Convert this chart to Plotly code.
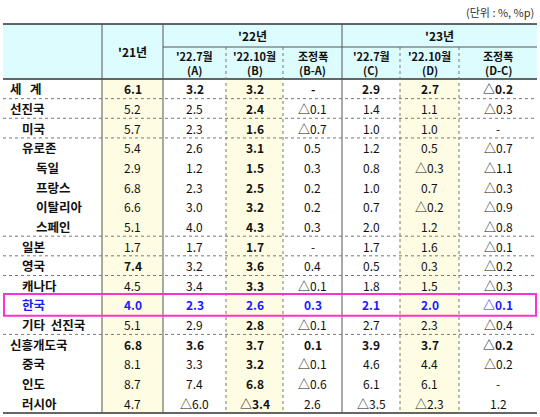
import plotly.graph_objects as go

regions = ["세   계","선진국","미국","유로존","독일","프랑스","이탈리아","스페인","일본","영국","캐나다","한국","기타  선진국","신흥개도국","중국","인도","러시아"]
indent = [0,0,1,1,2,2,2,2,1,1,1,1,1,0,1,1,1]
y21 = ["6.1","5.2","5.7","5.4","2.9","6.8","6.6","5.1","1.7","7.4","4.5","4.0","5.1","6.8","8.1","8.7","4.7"]
a22 = ["3.2","2.5","2.3","2.6","1.2","2.3","3.0","4.0","1.7","3.2","3.4","2.3","2.9","3.6","3.3","7.4","△6.0"]
b22 = ["3.2","2.4","1.6","3.1","1.5","2.5","3.2","4.3","1.7","3.6","3.3","2.6","2.8","3.7","3.2","6.8","△3.4"]
ba22 = ["-","△0.1","△0.7","0.5","0.3","0.2","0.2","0.3","-","0.4","△0.1","0.3","△0.1","0.1","△0.1","△0.6","2.6"]
c23 = ["2.9","1.4","1.0","1.2","0.8","1.0","0.7","2.0","1.7","0.5","1.8","2.1","2.7","3.9","4.6","6.1","△3.5"]
d23 = ["2.7","1.1","1.0","0.5","△0.3","0.7","△0.2","1.2","1.6","0.3","1.5","2.0","2.3","3.7","4.4","6.1","△2.3"]
dc23 = ["△0.2","△0.3","-","△0.7","△1.1","△0.3","△0.9","△0.8","△0.1","△0.2","△0.3","△0.1","△0.4","△0.2","△0.2","-","1.2"]
bold_rows = [0, 11, 13]
sub_top = ["'22.7월","'22.10월","조정폭","'22.7월","'22.10월","조정폭"]
sub_bot = ["(A)","(B)","(B-A)","(C)","(D)","(D-C)"]

cols = [y21, a22, b22, ba22, c23, d23, dc23]
xb = [3, 102, 163, 226, 283, 342, 400, 459, 537]
top, hmid, hbot = 24, 47, 79
rh = (413 - hbot) / len(regions)
FONT = "Noto Sans CJK KR"
shapes, ann = [], []

def rect(x0, y0, x1, y1, color):
    shapes.append(dict(type="rect", x0=x0, x1=x1, y0=y0, y1=y1, fillcolor=color, line=dict(width=0), layer="below"))

def line(x0, y0, x1, y1, dash="solid", w=1, c="#555"):
    shapes.append(dict(type="line", x0=x0, x1=x1, y0=y0, y1=y1, line=dict(color=c, width=w, dash=dash)))

rect(xb[0], top, xb[-1], hbot, "#DDFCFD")
for ci in (1, 3, 6):
    rect(xb[ci], hbot, xb[ci+1], 413, "#FEFDE3")

line(xb[0], top, xb[-1], top, w=1.5, c="#333")
line(xb[2], hmid, xb[-1], hmid)
line(xb[0], hbot, xb[-1], hbot, w=1.5, c="#333")
line(xb[0], 413, xb[-1], 413, w=1.5, c="#333")
for x in (xb[1], xb[2], xb[5]):
    line(x, top, x, 413)
for x in (xb[3], xb[4], xb[6], xb[7]):
    line(x, hmid, x, 413, dash="dot", c="#777")
for r in (0, 1, 2, 7, 8, 9, 12):
    y = hbot + (r + 1) * rh
    line(xb[0], y, xb[-1], y, dash="dot", c="#777")

ann.append(dict(x=536, y=12, text="(단위 : %, %p)", showarrow=False, xanchor="right", font=dict(size=11, color="#333")))
ann.append(dict(x=(xb[1]+xb[2])/2, y=(top+hbot)/2, text="<b>'21년</b>", showarrow=False))
ann.append(dict(x=(xb[2]+xb[5])/2, y=(top+hmid)/2, text="<b>'22년</b>", showarrow=False))
ann.append(dict(x=(xb[5]+xb[8])/2, y=(top+hmid)/2, text="<b>'23년</b>", showarrow=False))
for i in range(6):
    xc = (xb[i+2]+xb[i+3])/2
    ann.append(dict(x=xc, y=hmid + 9, text="<b>"+sub_top[i]+"</b>", showarrow=False, font=dict(size=11)))
    ann.append(dict(x=xc, y=hmid + 23, text="<b>"+sub_bot[i]+"</b>", showarrow=False, font=dict(size=11)))

for r, name in enumerate(regions):
    yc = hbot + (r + 0.5) * rh
    color = "#1a1aff" if r == 11 else "#111"
    ann.append(dict(x=8 + indent[r]*12 + (2 if indent[r] == 2 else 0), y=yc, text="<b>"+name+"</b>", showarrow=False, xanchor="left", font=dict(color=color, size=12.5)))
    for ci, col in enumerate(cols):
        v = col[r]
        b = r in bold_rows or ci == 2 or (r == 9 and ci == 0)
        ann.append(dict(x=(xb[ci+1]+xb[ci+2])/2, y=yc, text=("<b>%s</b>" % v) if b else v, showarrow=False, font=dict(color=color, size=12)))

y0 = hbot + 11*rh
shapes.append(dict(type="rect", x0=xb[0]+1, x1=xb[-1]-1, y0=y0-1, y1=y0+rh+1, line=dict(color="#FF33CC", width=2)))

fig = go.Figure()
fig.update_layout(width=540, height=417, margin=dict(l=0, r=0, t=0, b=0), plot_bgcolor="white", paper_bgcolor="white",
                  xaxis=dict(range=[0, 540], visible=False, fixedrange=True), yaxis=dict(range=[417, 0], visible=False, fixedrange=True),
                  shapes=shapes, annotations=ann, font=dict(family=FONT, size=12, color="#111"))
fig.write_html("out.html", config={"displayModeBar": False},
               post_script="document.body.style.margin='0';document.body.style.overflow='hidden';")
